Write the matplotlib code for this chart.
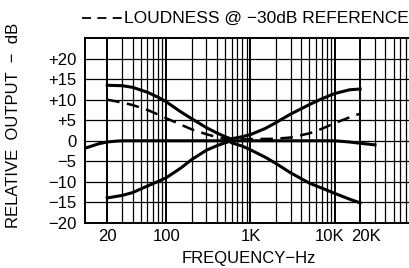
import numpy as np
import matplotlib.pyplot as plt
import matplotlib.transforms as mtransforms
from matplotlib.lines import Line2D
from matplotlib.ticker import FixedLocator, NullFormatter

plt.rcParams['font.family'] = ['Liberation Sans', 'DejaVu Sans']

# Tone control curves (frequency in Hz, output in dB).
bass_freq = [20, 30, 40, 60, 80, 100, 150, 200, 300, 400, 500, 600]
bass_boost = [13.5, 13.4, 13.0, 11.8, 10.6, 9.5, 7.0, 5.4, 3.2, 1.9, 1.0, 0.4]
bass_cut = [-13.9, -13.3, -12.6, -11.0, -9.9, -9.0, -6.6, -4.6, -2.3, -1.2, -0.5, 0.0]

treble_freq = [600, 800, 1000, 1500, 2000, 3000, 5000, 7000, 10000, 15000, 20000]
treble_boost = [0.5, 1.0, 1.5, 3.0, 4.4, 6.5, 8.8, 10.2, 11.5, 12.4, 12.6]
treble_cut = [-0.5, -1.3, -2.2, -4.0, -5.5, -7.8, -10.3, -11.5, -12.8, -14.2, -15.1]

flat_freq = [10.9, 13, 16, 20, 25, 30, 100, 1000, 5000, 10000, 15000, 20000, 30000]
flat = [-1.8, -1.3, -0.7, -0.3, -0.1, 0.0, 0.0, 0.0, 0.0, 0.0, -0.3, -0.6, -1.0]

loud_freq = [20, 30, 40, 60, 80, 100, 150, 200, 300, 400, 500, 600, 700,
             1000, 2000, 3000, 5000, 7000, 10000, 15000, 20000]
loudness = [10.0, 9.3, 8.7, 7.5, 6.4, 5.5, 3.9, 2.8, 1.6, 0.9, 0.5, 0.3, 0.3,
            0.4, 0.5, 0.8, 1.8, 2.9, 4.3, 5.7, 6.6]

x_ticks = [20, 100, 1000, 10000, 20000]
x_labels = ["20", "100", "1K", "10K", "20K"]
y_ticks = [-20, -15, -10, -5, 0, 5, 10, 15, 20]
y_labels = ["\u221220", "\u221215", "\u221210", "\u22125", "0", "+5", "+10", "+15", "+20"]

W, H = 409, 268
fig = plt.figure(figsize=(W / 100, H / 100), dpi=100)
ax = fig.add_axes([85 / W, 45 / H, 324 / W + 0.01, 185 / H])

# log grid: every 1..9 of each decade, plus 5 dB steps
grid_x = [m * 10 ** d for d in range(1, 5) for m in range(1, 10)]
for gx in grid_x:
    lw = 1.4 if gx in (20, 100, 1000, 10000, 20000) else 0.9
    ax.axvline(gx, color="black", lw=lw, zorder=1)
for gy in range(-15, 25, 5):
    ax.axhline(gy, color="black", lw=0.9, zorder=1)

ax.plot(bass_freq, bass_boost, color="black", lw=2.2, zorder=3)
ax.plot(bass_freq, bass_cut, color="black", lw=2.2, zorder=3)
ax.plot(treble_freq, treble_boost, color="black", lw=2.2, zorder=3)
ax.plot(treble_freq, treble_cut, color="black", lw=2.2, zorder=3)
ax.plot(flat_freq, flat, color="black", lw=2.2, zorder=3)
ax.plot(loud_freq, loudness, color="black", lw=1.8, dashes=(5, 3), zorder=3)

ax.set_xscale("log")
ax.set_xlim(10.9, 85000)
ax.set_ylim(-20, 25)
ax.xaxis.set_major_locator(FixedLocator(x_ticks))
ax.xaxis.set_minor_formatter(NullFormatter())
ax.set_xticks(x_ticks, x_labels)
ax.set_yticks(y_ticks, y_labels)
ax.tick_params(which="both", length=0, labelsize=12, colors="black")
ax.tick_params(axis="x", pad=4)
ax.tick_params(axis="y", pad=6)
for s in ax.spines.values():
    s.set_linewidth(1.4)

# nudge 10K / 20K apart like the original print
shifts = {"10K": -5, "20K": 6}
for lab in ax.get_xticklabels():
    dx = shifts.get(lab.get_text(), 0)
    if dx:
        lab.set_transform(lab.get_transform() +
                          mtransforms.ScaledTranslation(dx / 100, 0, fig.dpi_scale_trans))

ax.set_xlabel("FREQUENCY\u2212Hz", fontsize=12)
ax.xaxis.set_label_coords(0.5, -0.15)
ax.set_ylabel("RELATIVE  OUTPUT  \u2212  dB", fontsize=12)
ax.yaxis.set_label_coords(-0.195, 0.53)

# loudness key at the top
ty = 1 - 18 / H
fig.add_artist(Line2D([82 / W, 122 / W], [ty, ty], color="black",
                      lw=1.3, dashes=(5, 3.5)))
fig.text(124 / W, ty, "LOUDNESS @ \u221230dB REFERENCE", fontsize=12.5,
         ha="left", va="center")

fig.savefig("out.png", dpi=100)
